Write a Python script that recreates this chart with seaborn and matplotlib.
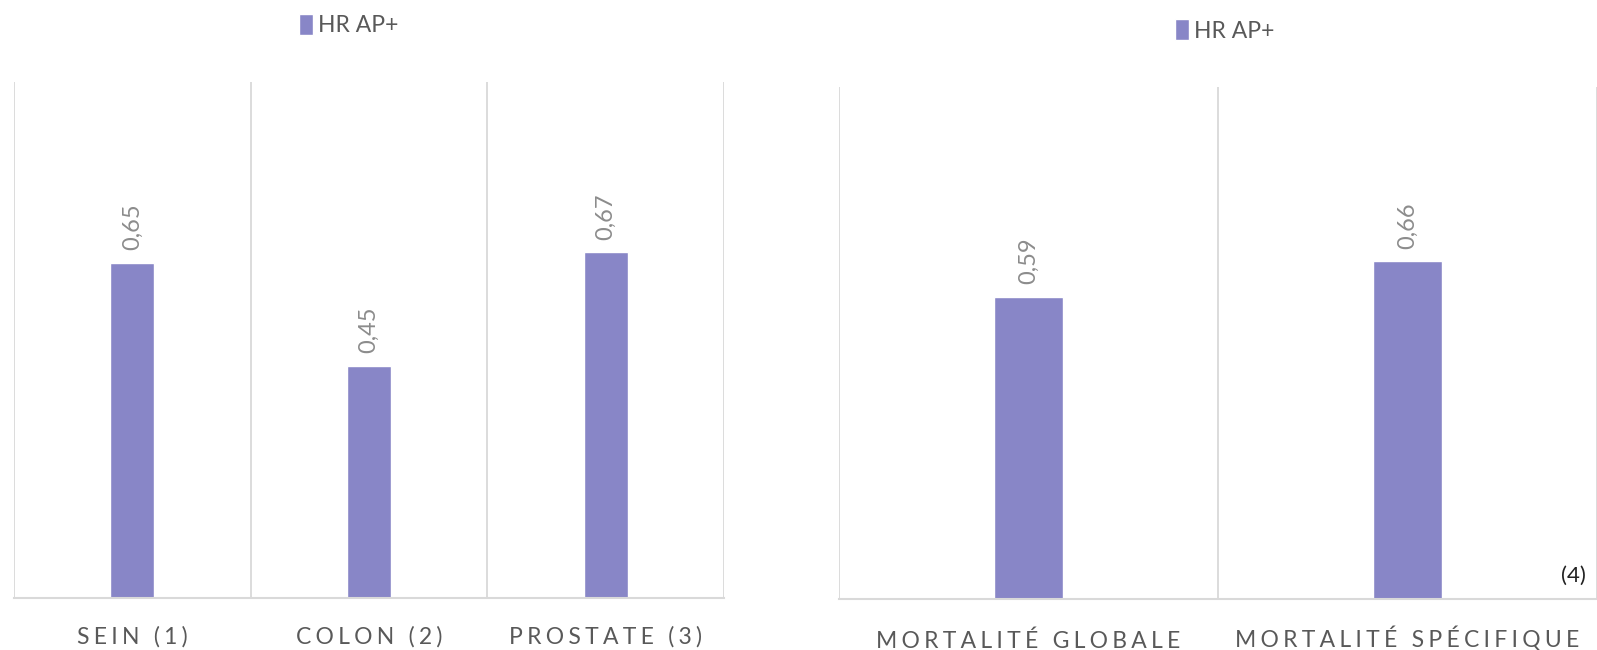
import matplotlib
matplotlib.use("Agg")
import matplotlib.pyplot as plt
import seaborn as sns
import pandas as pd

# Hazard ratios by cancer site
sites = ["SEIN (1)", "COLON (2)", "PROSTATE (3)"]
site_hr = [0.65, 0.45, 0.67]

# Hazard ratios by mortality type
mortality = ["MORTALITÉ GLOBALE", "MORTALITÉ SPÉCIFIQUE"]
mortality_hr = [0.59, 0.66]

series_name = "HR AP+"
note = "(4)"

BAR = "#8886c7"
GRID = "#d9d9d9"
TEXT = "#595959"
LABEL = "#8c8c8c"

sns.set_theme(style="white")
plt.rcParams["font.family"] = ["Lato", "DejaVu Sans"]


def tracked(s):
    # widen letter spacing with thin spaces
    return "\u2009\u200a".join(s)


def draw_panel(ax, cats, vals, bar_width, label_pad, tick_y):
    df = pd.DataFrame({"cat": cats, "hr": vals})
    sns.barplot(data=df, x="cat", y="hr", color=BAR, width=bar_width,
                saturation=1, ax=ax, label=series_name)
    ax.set_ylim(0, 1.0)
    ax.set_xlim(-0.5, len(cats) - 0.5)
    ax.set_yticks([])
    ax.set_xlabel("")
    ax.set_ylabel("")
    for s in ["top", "right", "left"]:
        ax.spines[s].set_visible(False)
    ax.spines["bottom"].set_color(GRID)
    ax.spines["bottom"].set_linewidth(1.5)
    for b in range(len(cats) + 1):
        ax.axvline(b - 0.5, color=GRID, lw=1.3, zorder=0)
    ax.set_xticks(range(len(cats)))
    ax.set_xticklabels([])
    ax.tick_params(axis="x", length=0)
    for i, c in enumerate(cats):
        ax.annotate(tracked(c), (i, 0), xytext=(0, tick_y),
                    textcoords="offset points", ha="center",
                    va="baseline", fontsize=16.5, color=TEXT,
                    annotation_clip=False)
    for i, v in enumerate(vals):
        ax.annotate(f"{v:.2f}".replace(".", ","), (i, v), xytext=(0, label_pad),
                    textcoords="offset points", rotation=90, ha="center",
                    va="bottom", fontsize=17, color=LABEL)
    if ax.get_legend() is not None:
        ax.get_legend().remove()


fig = plt.figure(figsize=(15.97, 6.5), dpi=100)
ax1 = fig.add_axes([14 / 1597, 52 / 650, 710 / 1597, 516 / 650])
ax2 = fig.add_axes([839 / 1597, 51 / 650, 758 / 1597, 512 / 650])

draw_panel(ax1, sites, site_hr, 0.185, 9, -32.5)
draw_panel(ax2, mortality, mortality_hr, 0.18, 9, -35)

ax2.text(0.985, 0.045, note, transform=ax2.transAxes, ha="right", va="center",
         fontsize=16, color="#222222")

for ax, (cx, cy) in [(ax1, (0.2185, 0.961)), (ax2, (0.767, 0.953))]:
    h, l = ax.get_legend_handles_labels()
    fig.legend(h[:1], l[:1], loc="center", bbox_to_anchor=(cx, cy),
               frameon=False, fontsize=16.5, handlelength=0.6,
               handleheight=1.0, handletextpad=0.25, labelcolor=TEXT)

fig.savefig("out.png", dpi=100, facecolor="white")
